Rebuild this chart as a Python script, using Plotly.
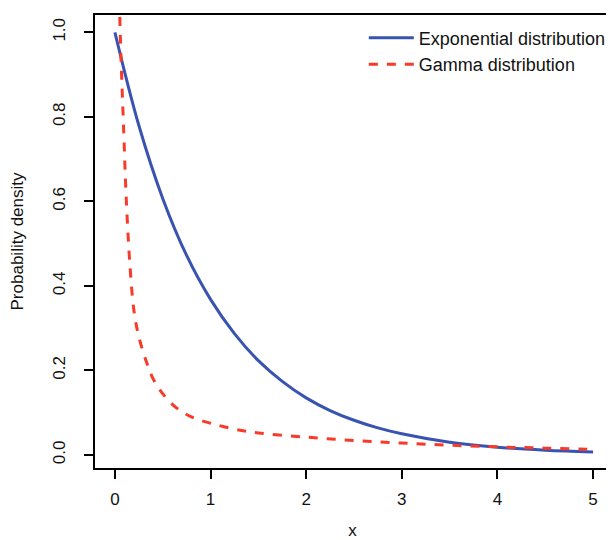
import plotly.graph_objects as go

# Exponential distribution
exp_x = [0.0, 0.25, 0.5, 0.75, 1.0, 1.25, 1.5, 1.75, 2.0, 2.25, 2.5, 2.75, 3.0, 3.5, 4.0, 4.5, 5.0]
exp_y = [1.0, 0.78, 0.607, 0.472, 0.368, 0.287, 0.223, 0.174, 0.135, 0.105, 0.082, 0.064, 0.05, 0.030, 0.018, 0.011, 0.007]

# Gamma distribution
gam_x = [0.04, 0.05, 0.07, 0.09, 0.12, 0.16, 0.2, 0.25, 0.33, 0.4, 0.5, 0.64, 0.8, 1.0, 1.25, 1.5, 2.0, 2.5, 3.0, 3.5, 4.0, 4.5, 5.0]
gam_y = [1.25, 1.05, 0.9, 0.78, 0.6, 0.44, 0.34, 0.28, 0.22, 0.18, 0.145, 0.112, 0.09, 0.075, 0.061, 0.052, 0.042, 0.034, 0.028, 0.023, 0.019, 0.016, 0.013]

x_ticks = [0, 1, 2, 3, 4, 5]
y_ticks = [0.0, 0.2, 0.4, 0.6, 0.8, 1.0]

fig = go.Figure()
fig.add_trace(go.Scatter(x=exp_x, y=exp_y, mode="lines", name="Exponential distribution",
                         line=dict(color="#3953B0", width=3, shape="spline")))
fig.add_trace(go.Scatter(x=gam_x, y=gam_y, mode="lines", name="Gamma distribution",
                         line=dict(color="#F83A2A", width=3, dash="dash", shape="spline")))

font = "Liberation Sans, Arial, sans-serif"
fig.update_layout(
    width=606, height=532,
    margin=dict(l=87, r=2, t=7, b=72),
    plot_bgcolor="white", paper_bgcolor="white",
    font=dict(family=font, size=17, color="#111111"),
    showlegend=True,
    legend=dict(x=0.522, y=0.99, xanchor="left", yanchor="top",
                bgcolor="rgba(0,0,0,0)", font=dict(size=18), tracegroupgap=0,
                itemwidth=45),
    xaxis=dict(range=[-0.208, 5.177], tickvals=x_ticks, ticktext=[str(v) for v in x_ticks],
               showgrid=False, zeroline=False, showline=True, mirror=True,
               linecolor="black", linewidth=2, ticks="outside", ticklen=9, tickwidth=2,
               tickcolor="black", ticklabelstandoff=6,
               title=dict(text="x", standoff=16, font=dict(size=17))),
    yaxis=dict(range=[-0.031, 1.041], tickvals=y_ticks, ticktext=[f"{v:.1f}" for v in y_ticks],
               tickangle=-90,
               showgrid=False, zeroline=False, showline=True, mirror=True,
               linecolor="black", linewidth=2, ticks="outside", ticklen=9, tickwidth=2,
               tickcolor="black", ticklabelstandoff=12,
               title=dict(text="Probability density", standoff=22, font=dict(size=17))),
)

fig.write_html("out.html")
